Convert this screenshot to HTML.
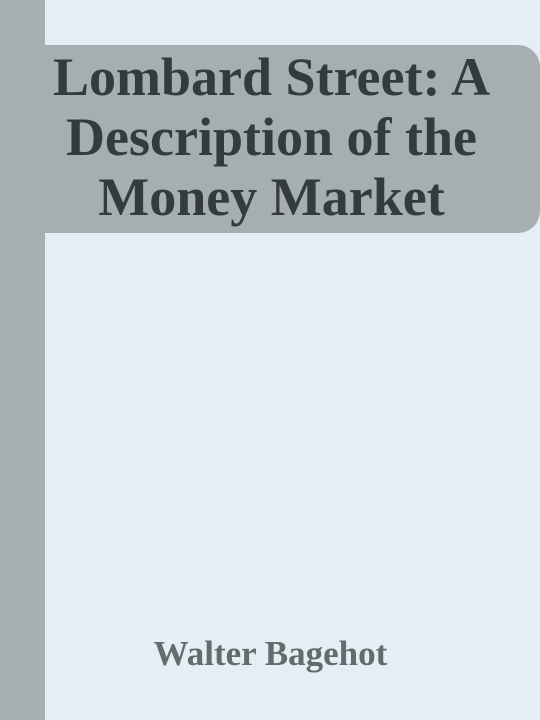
<!DOCTYPE html>
<html>
<head>
<meta charset="utf-8">
<style>
  html,body{margin:0;padding:0;}
  body{width:540px;height:720px;background:#e3eff4;position:relative;overflow:hidden;font-family:"Liberation Serif",serif;}
  #spine{position:absolute;left:0;top:0;width:45px;height:720px;background:#a6aeb1;}
  #title-box{position:absolute;left:45px;top:45px;width:495px;height:188px;background:#a6aeb1;border-radius:0 22px 22px 0;}
  #title{position:absolute;left:0;top:47px;width:543px;text-align:center;font-weight:bold;font-size:54px;line-height:60px;color:#343b3e;margin:0;white-space:nowrap;}
  #author{position:absolute;left:0;top:634px;width:541px;text-align:center;font-weight:bold;font-size:35px;line-height:40px;color:#646b6d;white-space:nowrap;}
</style>
</head>
<body>
  <div id="spine"></div>
  <div id="title-box"></div>
  <h1 id="title">Lombard Street: A<br>Description of the<br>Money Market</h1>
  <div id="author">Walter Bagehot</div>
</body>
</html>
